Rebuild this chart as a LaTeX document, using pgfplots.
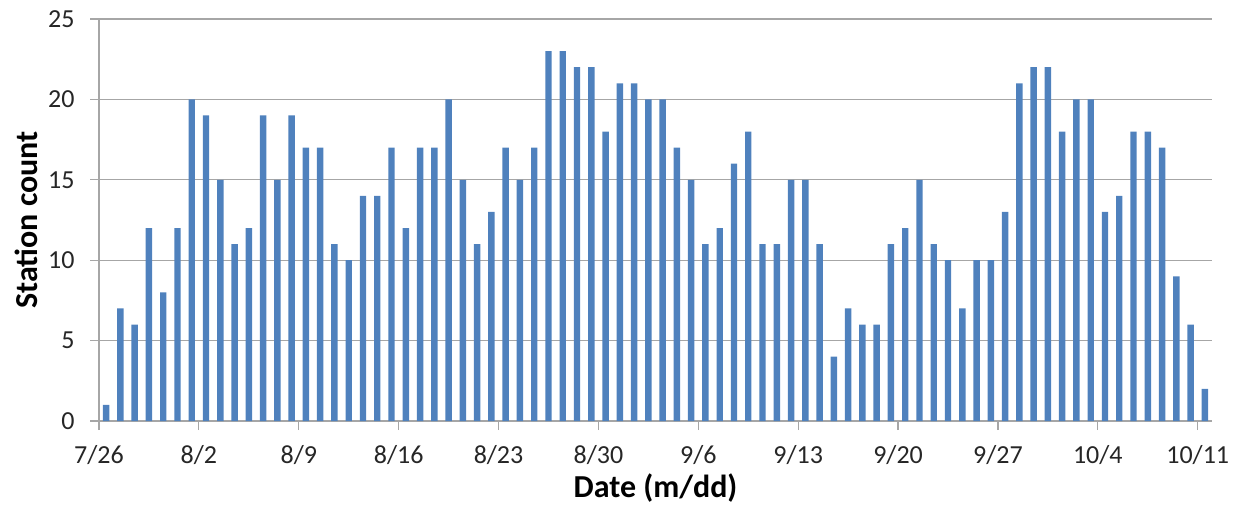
\documentclass[border=0pt]{standalone}
\usepackage{pgfplots}
\pgfplotsset{compat=1.18}
\usepackage{pgfplotstable}
\usepackage{fontspec}
\setmainfont{Carlito}
\definecolor{barblue}{HTML}{4F81BD}
\definecolor{gridgray}{HTML}{A6A6A6}
\pgfplotstableread{
x count
0.5 1
1.5 7
2.5 6
3.5 12
4.5 8
5.5 12
6.5 20
7.5 19
8.5 15
9.5 11
10.5 12
11.5 19
12.5 15
13.5 19
14.5 17
15.5 17
16.5 11
17.5 10
18.5 14
19.5 14
20.5 17
21.5 12
22.5 17
23.5 17
24.5 20
25.5 15
26.5 11
27.5 13
28.5 17
29.5 15
30.5 17
31.5 23
32.5 23
33.5 22
34.5 22
35.5 18
36.5 21
37.5 21
38.5 20
39.5 20
40.5 17
41.5 15
42.5 11
43.5 12
44.5 16
45.5 18
46.5 11
47.5 11
48.5 15
49.5 15
50.5 11
51.5 4
52.5 7
53.5 6
54.5 6
55.5 11
56.5 12
57.5 15
58.5 11
59.5 10
60.5 7
61.5 10
62.5 10
63.5 13
64.5 21
65.5 22
66.5 22
67.5 18
68.5 20
69.5 20
70.5 13
71.5 14
72.5 18
73.5 18
74.5 17
75.5 9
76.5 6
77.5 2
}\datatable
\newcommand{\tickfont}{\fontsize{26}{30}\selectfont}
\begin{document}
\begin{tikzpicture}
\begin{axis}[
  name=ax,
  scale only axis,
  width=1113pt, height=402pt,
  xmin=0, xmax=78, ymin=0, ymax=25,
  axis lines=left,
  axis line style={-, draw=gridgray, line width=1.2pt},
  xtick={0,7,14,21,28,35,42,49,56,63,70,77},
  xticklabels={7/26,8/2,8/9,8/16,8/23,8/30,9/6,9/13,9/20,9/27,10/4,10/11},
  ytick={0,5,10,15,20,25},
  tick align=outside,
  major tick length=9pt,
  tick style={draw=gridgray, line width=1.2pt},
  ymajorgrids,
  grid style={draw=gridgray, line width=1.2pt},
  xticklabel style={font=\tickfont, text=black!85, yshift=-12pt},
  yticklabel style={font=\tickfont, text=black!85, xshift=-12pt},
  /pgf/number format/assume math mode=true,
  xlabel={\textbf{Date (m/dd)}},
  ylabel={\textbf{Station count}},
  label style={font=\fontsize{32}{36}\selectfont},
  xlabel style={yshift=-2pt},
  ylabel style={yshift=4pt},
  ybar, bar width=0.45, bar shift=0pt,
  clip=false,
]
\addplot[fill=barblue, draw=none] table[x=x, y=count] {\datatable};
\end{axis}
\path ([shift={(-99pt,-89pt)}]ax.south west) rectangle ([shift={(37pt,19pt)}]ax.north east);
\end{tikzpicture}
\end{document}
